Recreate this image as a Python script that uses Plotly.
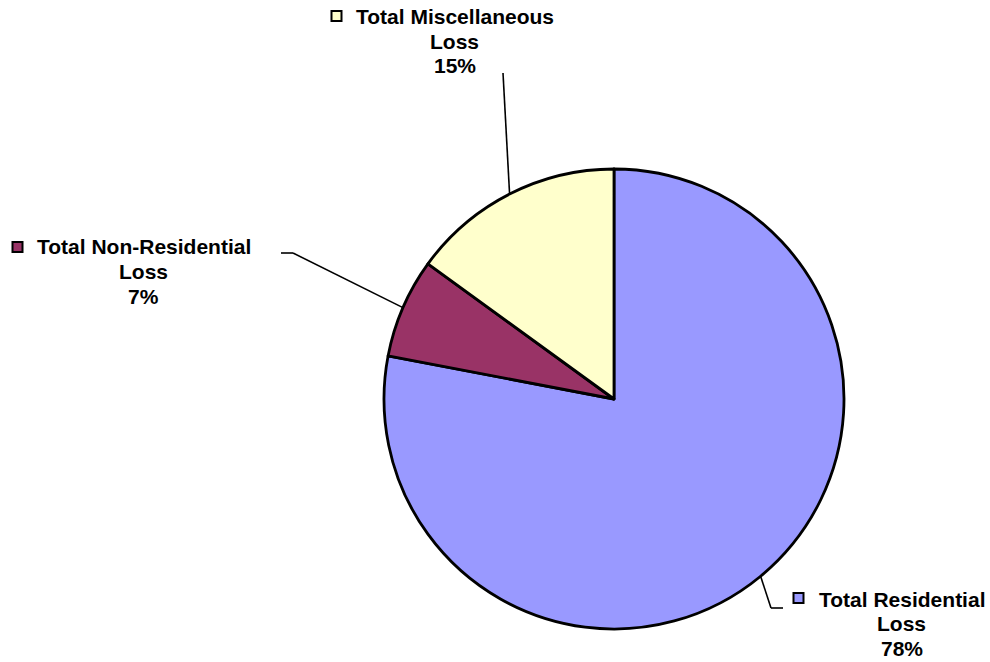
import math
import plotly.graph_objects as go

# Loss breakdown (percent of total), drawn clockwise from 12 o'clock
categories = ["Total Residential Loss", "Total Non-Residential Loss", "Total Miscellaneous Loss"]
label_lines = [["Total Residential", "Loss"], ["Total Non-Residential", "Loss"], ["Total Miscellaneous", "Loss"]]
values = [78, 7, 15]
colors = ["#9999FF", "#993366", "#FFFFCC"]

W, H = 990, 662
CX, CY, R = 614, 399, 230  # pie centre / radius in pixels

# label layout (pixels): text centre x, first-line y, square centre, leader path after the pie edge
label_layout = [
    dict(tx=901.5, ty=599, sq=(798.5, 598), path=[(771, 608), (783, 608)]),
    dict(tx=143.5, ty=247, sq=(17.5, 247), path=[(293, 253), (281, 253)]),
    dict(tx=454.5, ty=17, sq=(336.5, 16), path=[(503, 73)]),
]
LINE_GAP = 24.5
FONT = dict(family="Liberation Sans, Arial, sans-serif", size=21, color="black")


def px(x):
    return x / W


def py(y):
    return 1 - y / H


fig = go.Figure(
    go.Pie(
        labels=categories,
        values=values,
        sort=False,
        direction="clockwise",
        rotation=0,
        marker=dict(colors=colors, line=dict(color="black", width=2.8)),
        textinfo="none",
        textposition="none",
        hoverinfo="label+percent",
        showlegend=False,
        domain=dict(x=[px(CX - R), px(CX + R)], y=[py(CY + R), py(CY - R)]),
    )
)

total = sum(values)
shapes = []
annotations = []
cum = 0.0
for cat_lines, val, col, lay in zip(label_lines, values, colors, label_layout):
    mid = (cum + val / 2) / total * 2 * math.pi
    cum += val
    ex, ey = CX + R * math.sin(mid), CY - R * math.cos(mid)
    pts = [(ex, ey)] + lay["path"]
    for (x0, y0), (x1, y1) in zip(pts[:-1], pts[1:]):
        shapes.append(dict(type="line", xref="paper", yref="paper",
                           x0=px(x0), y0=py(y0), x1=px(x1), y1=py(y1),
                           line=dict(color="black", width=1.6)))
    sx, sy = lay["sq"]
    shapes.append(dict(type="rect", xref="paper", yref="paper",
                       x0=px(sx - 5), x1=px(sx + 5), y0=py(sy + 5), y1=py(sy - 5),
                       fillcolor=col, line=dict(color="black", width=2)))
    pct = f"{round(val / total * 100)}%"
    for i, t in enumerate(cat_lines + [pct]):
        annotations.append(dict(text=f"<b>{t}</b>", xref="paper", yref="paper",
                                x=px(lay["tx"]), y=py(lay["ty"] + i * LINE_GAP),
                                xanchor="center", yanchor="middle",
                                showarrow=False, font=FONT))

fig.update_layout(
    width=W, height=H,
    margin=dict(l=0, r=0, t=0, b=0),
    paper_bgcolor="white", plot_bgcolor="white",
    shapes=shapes, annotations=annotations,
)

fig.write_html("out.html")
